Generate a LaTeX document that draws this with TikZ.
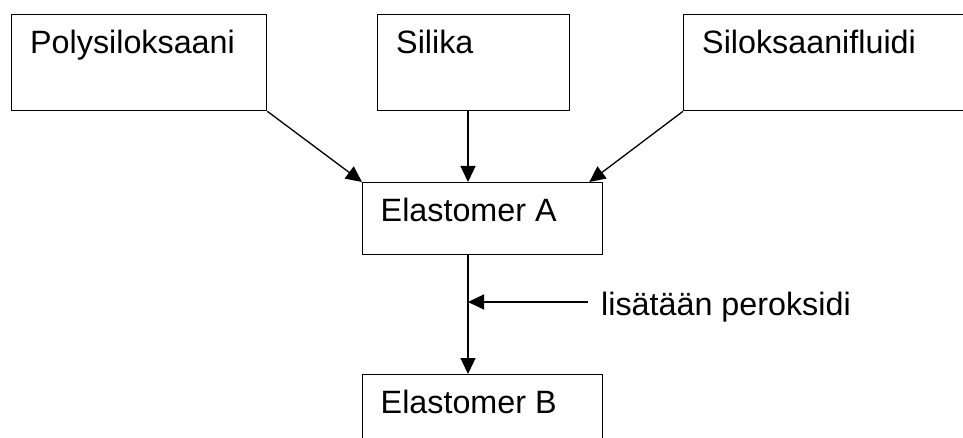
\documentclass[tikz,border=0pt]{standalone}
\usepackage{fontspec}
\setmainfont{Liberation Sans}
\usetikzlibrary{arrows.meta}

\begin{document}
\begin{tikzpicture}[x=1pt,y=-1pt,
        box/.style={draw,line width=1.3pt,anchor=north west,inner sep=0pt},
        txt/.style={anchor=base west,inner sep=0pt,font=\fontsize{32.3}{38}\selectfont},
        arr/.style={line width=1.3pt,-{Triangle[length=16pt,width=15pt]}}]
        \useasboundingbox (0,0) rectangle (963,438);
        % raw materials
        \node[box,minimum width=255,minimum height=96] (poly) at (11,14) {};
        \node[box,minimum width=192,minimum height=96] (sil) at (377,14) {};
        \node[box,minimum width=300,minimum height=96] (silo) at (683,14) {};
        \node[txt] (polyt) at ([shift={(19,40)}]poly.north west) {Polysiloksaani};
        \node[txt] (silt) at ([shift={(19,40)}]sil.north west) {Silika};
        \node[txt] (silot) at ([shift={(19,40)}]silo.north west) {Siloksaanifluidi};
        % elastomers
        \node[box,minimum width=240,minimum height=72] (elA) at (362,182) {};
        \node[box,minimum width=240,minimum height=80] (elB) at (362,374) {};
        \node[txt] (elAt) at ([shift={(18.5,40)}]elA.north west) {Elastomer A};
        \node[txt] (elBt) at ([shift={(18.5,39)}]elB.north west) {Elastomer B};
        \node[txt] (perox) at (601,315) {lisätään peroksidi};
        \coordinate (join) at (468,302);
        \coordinate (addend) at (588,302);

        \draw[arr](poly.south east) -- (elA.north west);
        \draw[arr]([xshift=91pt]sil.south west) -- ([xshift=106pt]elA.north west);
        \draw[arr](silo.south west) -- ([xshift=-14pt]elA.north east);
        \draw[arr]([xshift=106pt]elA.south west) -- ([xshift=106pt]elB.north west);
        \draw[arr](addend) -- (join);
    \end{tikzpicture}
\end{document}
